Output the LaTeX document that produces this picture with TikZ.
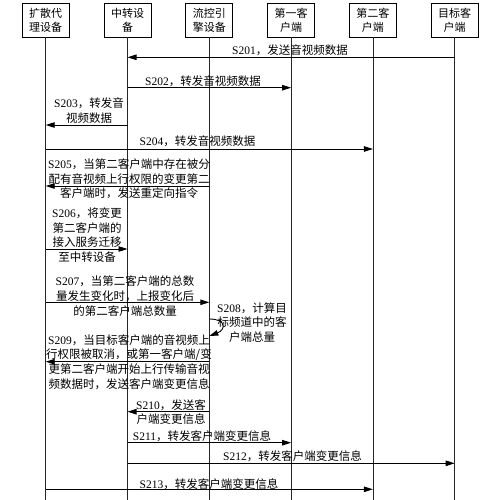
\documentclass[tikz,border=0pt]{standalone}
\usepackage{fontspec}
\setmainfont{Liberation Serif}
\newfontfamily\cjk{Noto Sans CJK SC}
\usetikzlibrary{arrows.meta}
\newcommand\sid[1]{{\rmfamily S#1}}
\begin{document}
\begin{tikzpicture}[x=1pt,y=-1pt,
    actor/.style={draw,line width=0.9pt,minimum width=47pt,minimum height=34pt,
        align=center,inner sep=1pt,font={\cjk\fontsize{11}{14}\selectfont}},
    life/.style={line width=0.8pt,black!85},
    msg/.style={line width=0.9pt,-{Triangle[length=9pt,width=5.5pt]}},
    lbl/.style={align=center,inner sep=0pt,font={\cjk\fontsize{11.5}{14.7}\selectfont}}]

    \def\x{45.7}	 %first lifeline
    \def\gap{81.8}	 %distance between lifelines
    \useasboundingbox (0,0) rectangle (500,500);

    %PARTICIPANTS
    \foreach \name/\txt [count=\i from 0] in {diff/扩散代\\理设备, relay/中转设\\备,
        flow/流控引\\擎设备, cli1/第一客\\户端, cli2/第二客\\户端, tgt/目标客\\户端}{
    \node[actor] (\name) at ({\x+\i*\gap},20) {\txt};
    }
    \coordinate (bot) at (0,500);
    \foreach \name in {diff,relay,flow,cli1,cli2,tgt}
        \draw[life] (\name.south) -- (\name |- bot);	%lifeline

    %MESSAGES: y / from / to
    \foreach \y/\from/\to/\k in {57.3/tgt/relay/201, 87.7/relay/cli1/202,
        125/relay/diff/203, 149/diff/cli2/204, 186/flow/diff/205,
        249/diff/relay/206, 302.3/diff/flow/207, 361.7/flow/diff/209,
        411.7/flow/relay/210, 442.7/relay/cli1/211, 463.3/relay/tgt/212,
        489.3/diff/cli2/213}{
    \coordinate (m\k) at (0,\y);
    \draw[msg] (\from |- m\k) -- (\to |- m\k);
    } %end of message loop

    %self message S208
    \coordinate (m208a) at (0,319);	\coordinate (m208b) at (0,336);
    \draw[msg] (flow |- m208a) .. controls +(18,0) and +(16,-6) .. (flow |- m208b);

    %LABELS
    \node[lbl] (l201) at (290,50.5) {\sid{201}，发送音视频数据};
    \node[lbl] (l202) at (203,81) {\sid{202}，转发音视频数据};
    \node[lbl] (l203) at (89,110.5) {\sid{203}，转发音\\视频数据};
    \node[lbl] (l204) at (197.5,141.5) {\sid{204}，转发音视频数据};
    \node[lbl] (l205) at (129,179) {\sid{205}，当第二客户端中存在被分\\配有音视频上行权限的变更第二\\客户端时，发送重定向指令};
    \node[lbl] (l206) at (87,235) {\sid{206}，将变更\\第二客户端的\\接入服务迁移\\至中转设备};
    \node[lbl] (l207) at (125,296) {\sid{207}，当第二客户端的总数\\量发生变化时，上报变化后\\的第二客户端总数量};
    \node[lbl] (l208) at (252,322.5) {\sid{208}，计算目\\标频道中的客\\户端总量};
    \node[lbl] (l209) at (129,362) {\sid{209}，当目标客户端的音视频上\\行权限被取消，或第一客户端/变\\更第二客户端开始上行传输音视\\频数据时，发送客户端变更信息};
    \node[lbl] (l210) at (171,412) {\sid{210}，发送客\\户端变更信息};
    \node[lbl] (l211) at (202,436.5) {\sid{211}，转发客户端变更信息};
    \node[lbl] (l212) at (292.5,456.5) {\sid{212}，转发客户端变更信息};
    \node[lbl] (l213) at (209,484) {\sid{213}，转发客户端变更信息};
\end{tikzpicture}
\end{document}
